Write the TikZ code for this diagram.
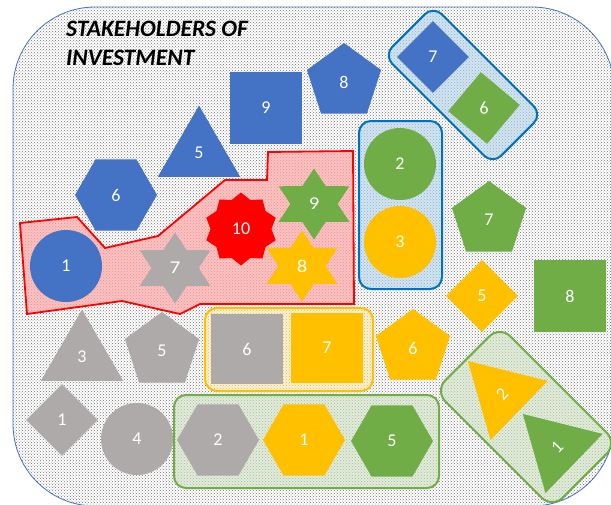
\documentclass[tikz,border=0pt]{standalone}
\usepackage{fontspec}
\setmainfont{Carlito}
\usetikzlibrary{shapes.geometric,patterns}

\definecolor{ppblue}{HTML}{4472C4}
\definecolor{ppgreen}{HTML}{70AD47}
\definecolor{ppgold}{HTML}{FFC000}
\definecolor{ppgray}{HTML}{AEAAAA}
\definecolor{ppred}{HTML}{FF0000}
\definecolor{ppsky}{HTML}{0070C0}

\begin{document}
\begin{tikzpicture} [
  x=1pt, y=-1pt,
  item/.style={inner sep=0pt, text=white, font=\fontsize{18}{20}\selectfont},
  tri/.style={item, regular polygon, regular polygon sides=3, minimum size=95pt},
  penta/.style={item, regular polygon, regular polygon sides=5, minimum size=78pt},
  hexa/.style={item, regular polygon, regular polygon sides=6, minimum size=82pt},
  sq/.style={item, rectangle, minimum size=72pt},
  disc/.style={item, circle, minimum size=72pt},
  diam/.style={item, diamond, minimum size=72pt},
  sixstar/.style={item, star, star points=6, star point ratio=1.73, minimum size=71pt, xscale=1.15},
  seal/.style={item, star, star points=10, star point ratio=1.2, minimum size=73pt},
  group/.style={rounded corners=12pt, line width=2pt, fill opacity=0.6}]

\useasboundingbox (0,0) rectangle (611,504);
\clip (0,0) rectangle (611,504);

% dotted board
\draw[ppblue, line width=0.8pt, rounded corners=82pt,
  preaction={fill=white}, pattern=crosshatch dots, pattern color=black!55]
  (13,7) rectangle (614,506);

\node[anchor=north west, align=left, inner sep=0pt,
  font=\fontsize{23.5}{29}\selectfont\bfseries\itshape] (title) at (66,21)
  {STAKEHOLDERS OF\\INVESTMENT};

% groups
\draw[ppred, line width=1.8pt, fill=ppred!35, fill opacity=0.7]
  (20,223) -- (77,217) -- (105,248) -- (158,236) -- (225,180) -- (267,180)
  -- (268,152) -- (353,151) -- (354,304) -- (200,304) -- (180,314)
  -- (122,301) -- (27,314) -- cycle;
\node[group, draw=ppsky, fill=ppsky!30, minimum width=83pt, minimum height=168pt] (gcol) at (400.5,205) {};
\node[group, draw=ppsky, fill=ppsky!30, rotate=-45, minimum width=154pt, minimum height=70pt] (gtilt) at (463,85) {};
\node[group, draw=ppgold, fill=ppgold!35, minimum width=168pt, minimum height=83pt] (grow) at (289,349.5) {};
\node[group, draw=ppgreen, fill=ppgreen!35, minimum width=265pt, minimum height=93pt] (gbase) at (306.5,441.5) {};
\node[group, draw=ppgreen, fill=ppgreen!35, rounded corners=15pt, rotate=-45, minimum width=166pt, minimum height=92pt] (gcorner) at (526,417) {};

% blue
\node[sq, fill=ppblue] (b9) at (266,108) {9};
\node[penta, fill=ppblue] (b8) at (344,82) {8};
\node[tri, fill=ppblue] (b5) at (199,153) {5};
\node[hexa, fill=ppblue] (b6) at (116,195) {6};
\node[disc, fill=ppblue] (b1) at (66,266) {1};
\node[diam, fill=ppblue] (b7) at (433,57) {7};

% green
\node[diam, fill=ppgreen, rotate=5] (g6) at (484,108) {6};
\node[disc, fill=ppgreen] (g2) at (400,164) {2};
\node[sixstar, fill=ppgreen] (g9) at (314,204) {9};
\node[penta, fill=ppgreen] (g7) at (489,220) {7};
\node[sq, fill=ppgreen] (g8) at (570,296) {8};
\node[hexa, fill=ppgreen] (g5) at (392,441) {5};
\node[tri, fill=ppgreen, rotate=46] (g1) at (557,447) {1};

% gold
\node[disc, fill=ppgold] (y3) at (400,242) {3};
\node[sixstar, fill=ppgold] (y8) at (302,266) {8};
\node[diam, fill=ppgold] (y5) at (482,296) {5};
\node[sq, fill=ppgold, minimum height=70pt] (y7) at (327,348) {7};
\node[penta, fill=ppgold] (y6) at (413,348) {6};
\node[hexa, fill=ppgold] (y1) at (304,440) {1};
\node[tri, fill=ppgold, rotate=46] (y2) at (502,394) {2};

% gray
\node[sixstar, fill=ppgray] (k7) at (175,268) {7};
\node[tri, fill=ppgray] (k3) at (82,357) {3};
\node[penta, fill=ppgray] (k5) at (162,351) {5};
\node[sq, fill=ppgray, minimum height=70pt] (k6) at (247,349) {6};
\node[diam, fill=ppgray] (k1) at (62,420) {1};
\node[disc, fill=ppgray] (k4) at (137,439) {4};
\node[hexa, fill=ppgray] (k2) at (218,440) {2};

% red
\node[seal, fill=ppred] (r10) at (241,229) {10};
\end{tikzpicture}
\end{document}
